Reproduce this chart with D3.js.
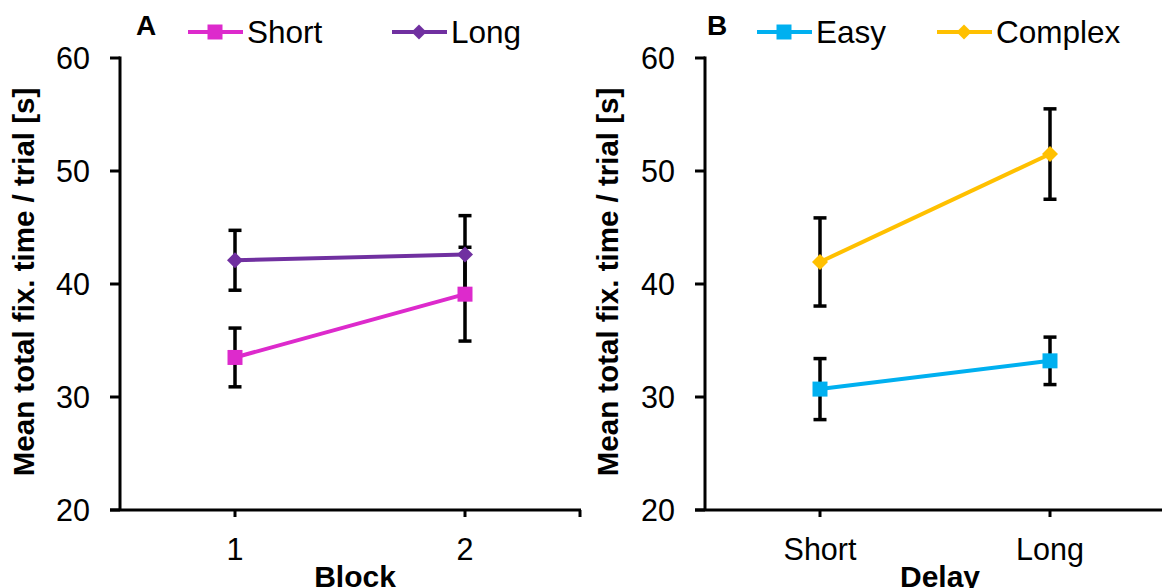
<!DOCTYPE html>
<html>
<head>
<meta charset="utf-8">
<script src="https://cdn.jsdelivr.net/npm/d3@7"></script>
<style>
  body { margin: 0; background: #fff; }
  svg text { font-family: "Liberation Sans", Arial, sans-serif; }
</style>
</head>
<body>
<div id="chart"></div>
<script>
// panel A: block x delay
var blocks = ["1", "2"];
var shortMean = [33.5, 39.1];
var shortErr = [2.6, 4.15];
var longMean = [42.1, 42.6];
var longErr = [2.65, 3.45];

// panel B: delay x task
var delays = ["Short", "Long"];
var easyMean = [30.7, 33.2];
var easyErr = [2.7, 2.1];
var complexMean = [41.95, 51.5];
var complexErr = [3.9, 4.0];

var yTicks = [20, 30, 40, 50, 60];

// square-ish diamond (rotated square), size = half diagonal squared
var diamond = {
	draw: function(ctx, size){
		var r = Math.sqrt(size);
		ctx.moveTo(0, -r);
		ctx.lineTo(r, 0);
		ctx.lineTo(0, r);
		ctx.lineTo(-r, 0);
		ctx.closePath();
	}
};

function init(){
	var w = 1162, h = 588;

	var svg = d3.select("#chart")
				.append("svg")
				.attr("width", w)
				.attr("height", h);

	var panels = [
		{ letter: "A", letterX: 146, left: 120, cats: blocks, xTitle: "Block", titleX: 34,
		  series: [
			{ name: "Short", mean: shortMean, err: shortErr, color: "#DD2ACC", shape: d3.symbolSquare },
			{ name: "Long", mean: longMean, err: longErr, color: "#7030A0", shape: diamond }
		  ],
		  legendX: [188, 392] },
		{ letter: "B", letterX: 717, left: 705, cats: delays, xTitle: "Delay", titleX: 618,
		  series: [
			{ name: "Easy", mean: easyMean, err: easyErr, color: "#00B0F0", shape: d3.symbolSquare },
			{ name: "Complex", mean: complexMean, err: complexErr, color: "#FFC000", shape: diamond }
		  ],
		  legendX: [757, 937] }
	];

	var yScale = d3.scaleLinear()
					.domain([20, 60])
					.range([510, 58]);

	panels.forEach(function(p){
		var xScale = d3.scalePoint()
						.domain(p.cats)
						.range([p.left, p.left + 460])
						.padding(0.5);   // centres at 1/4 and 3/4

		var g = svg.append("g");

		// y axis
		g.append("line")
			.attr("x1", p.left).attr("x2", p.left)
			.attr("y1", yScale(60) - 1.5).attr("y2", yScale(20))
			.attr("stroke", "#000").attr("stroke-width", 3);
		g.selectAll(".ytick")
			.data(yTicks)
			.enter()
			.append("line")
			.attr("x1", p.left - 10).attr("x2", p.left)
			.attr("y1", function(d){ return yScale(d); })
			.attr("y2", function(d){ return yScale(d); })
			.attr("stroke", "#000").attr("stroke-width", 3);
		g.selectAll(".ylab")
			.data(yTicks)
			.enter()
			.append("text")
			.text(function(d){ return d; })
			.attr("x", p.left - 30)
			.attr("y", function(d){ return yScale(d) + 11; })
			.attr("text-anchor", "end")
			.attr("font-size", 30.5);

		// x axis
		g.append("line")
			.attr("x1", p.left - 10).attr("x2", Math.min(p.left + 461, w))
			.attr("y1", yScale(20)).attr("y2", yScale(20))
			.attr("stroke", "#000").attr("stroke-width", 3);
		var xt = p.cats.map(function(c){ return xScale(c); }).concat([p.left + 460]);
		g.selectAll(".xtick")
			.data(xt)
			.enter()
			.append("line")
			.attr("x1", function(d){ return d; })
			.attr("x2", function(d){ return d; })
			.attr("y1", yScale(20)).attr("y2", yScale(20) + 7)
			.attr("stroke", "#000").attr("stroke-width", 3);
		g.selectAll(".xlab")
			.data(p.cats)
			.enter()
			.append("text")
			.text(function(d){ return d; })
			.attr("x", function(d){ return xScale(d); })
			.attr("y", 560)
			.attr("text-anchor", "middle")
			.attr("font-size", 30.5);

		// axis titles
		g.append("text")
			.text(p.xTitle)
			.attr("x", p.left + 235)
			.attr("y", 587)
			.attr("text-anchor", "middle")
			.attr("font-size", 30)
			.attr("font-weight", "bold");
		g.append("text")
			.text("Mean total fix. time / trial [s]")
			.attr("transform", "translate(" + p.titleX + "," + 282 + ") rotate(-90)")
			.attr("text-anchor", "middle")
			.attr("font-size", 29.5)
			.attr("font-weight", "bold");

		// panel letter
		g.append("text")
			.text(p.letter)
			.attr("x", p.letterX)
			.attr("y", 35)
			.attr("text-anchor", "middle")
			.attr("font-size", 28)
			.attr("font-weight", "bold");

		// series: error bars first
		p.series.forEach(function(s, si){
			var pts = p.cats.map(function(c, i){
				return { x: xScale(c), m: s.mean[i], e: s.err[i] };
			});

			g.selectAll(".eb" + si)
				.data(pts)
				.enter()
				.append("line")
				.attr("x1", function(d){ return d.x; })
				.attr("x2", function(d){ return d.x; })
				.attr("y1", function(d){ return yScale(d.m + d.e); })
				.attr("y2", function(d){ return yScale(d.m - d.e); })
				.attr("stroke", "#000").attr("stroke-width", 3.5);
			[1, -1].forEach(function(sign){
				g.selectAll(".cap" + si + sign)
					.data(pts)
					.enter()
					.append("line")
					.attr("x1", function(d){ return d.x - 6.5; })
					.attr("x2", function(d){ return d.x + 6.5; })
					.attr("y1", function(d){ return yScale(d.m + sign * d.e); })
					.attr("y2", function(d){ return yScale(d.m + sign * d.e); })
					.attr("stroke", "#000").attr("stroke-width", 3.5);
			});
		});

		// lines, markers, legend
		p.series.forEach(function(s, si){
			var pts = p.cats.map(function(c, i){
				return { x: xScale(c), m: s.mean[i] };
			});
			var line = d3.line()
						.x(function(d){ return d.x; })
						.y(function(d){ return yScale(d.m); });
			g.append("path")
				.datum(pts)
				.attr("d", line)
				.attr("fill", "none")
				.attr("stroke", s.color)
				.attr("stroke-width", 4);
			var size = s.shape === d3.symbolSquare ? 225 : 64;
			g.selectAll(".mk" + si)
				.data(pts)
				.enter()
				.append("path")
				.attr("d", d3.symbol().type(s.shape).size(size))
				.attr("transform", function(d){ return "translate(" + d.x + "," + yScale(d.m) + ")"; })
				.attr("fill", s.color);

			// legend
			var lx = p.legendX[si], ly = 32;
			g.append("line")
				.attr("x1", lx).attr("x2", lx + 55)
				.attr("y1", ly).attr("y2", ly)
				.attr("stroke", s.color).attr("stroke-width", 4);
			g.append("path")
				.attr("d", d3.symbol().type(s.shape).size(s.shape === d3.symbolSquare ? 225 : 56))
				.attr("transform", "translate(" + (lx + 27) + "," + ly + ")")
				.attr("fill", s.color);
			g.append("text")
				.text(s.name)
				.attr("x", lx + 59)
				.attr("y", ly + 11)
				.attr("font-size", 31.5);
		});
	});
}

window.onload = init;
</script>
</body>
</html>
